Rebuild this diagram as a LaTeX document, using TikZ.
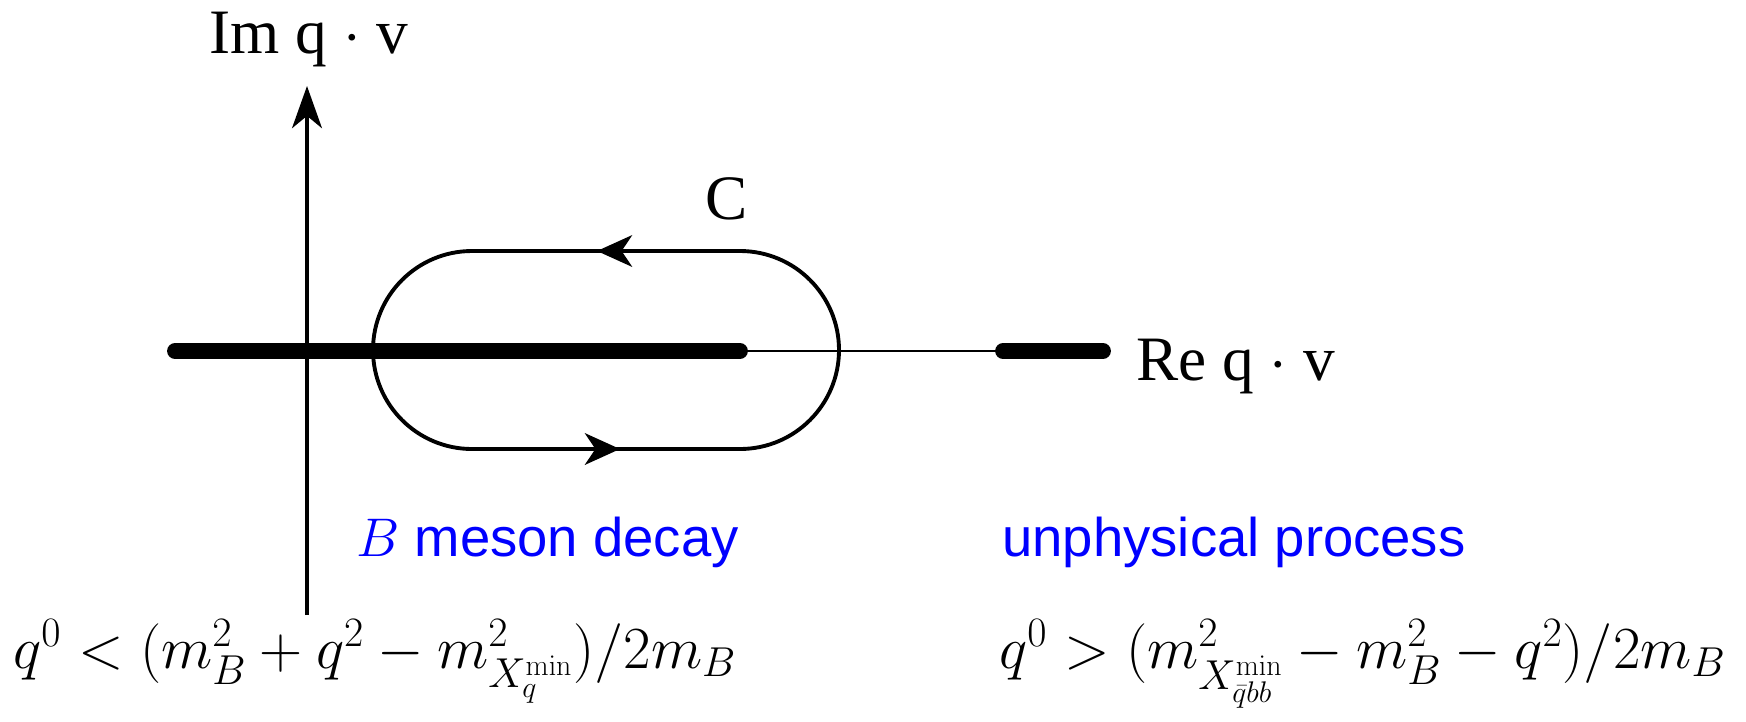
\RequirePackage{fix-cm}
\documentclass[tikz,border=0pt]{standalone}
\usepackage{amsmath,amssymb}
\usepackage[no-math]{fontspec}
\setmainfont{Liberation Serif}
\setsansfont{Liberation Sans}
\usetikzlibrary{arrows.meta,positioning}

\tikzset{
  axisline/.style={line width=2.1pt},
  cutline/.style={line width=9pt, line cap=round},
  thinline/.style={line width=1.4pt},
  contourline/.style={line width=2.2pt},
  contourtip/.style={-{Stealth[length=20pt, width=18pt, inset=6pt]}, line width=2.2pt},
  axislabel/.style={font=\fontsize{36}{40}\selectfont, inner sep=0pt},
  regionlabel/.style={font=\sffamily\fontsize{31}{36}\selectfont, text=blue, inner sep=0pt},
  formulalabel/.style={font=\fontsize{34}{38}\selectfont, inner sep=0pt}
}

\begin{document}
\begin{tikzpicture}[x=0.02cm, y=-0.02cm, line join=round]
    \path[use as bounding box] (0,0) rectangle (1746,721);
    \coordinate (O) at (307,351);
    \coordinate (ImTop) at (307,86);
    \coordinate (ImBot) at (307,615);
    \coordinate (CutL) at (175,351);
    \coordinate (CutR) at (740,351);
    \coordinate (ThrL) at (1003,351);
    \coordinate (ThrR) at (1103,351);
    \coordinate (CTR) at (740,251);
    \coordinate (CTL) at (472,251);
    \coordinate (CBL) at (472,449);
    \coordinate (CBR) at (740,449);
    % axes and cuts
    \draw[axisline, -{Stealth[length=24pt, width=17pt, inset=7pt]}] (ImBot) -- (ImTop);
    \draw[thinline] (CutR) -- (ThrL);
    \draw[cutline] (CutL) -- (CutR);
    \draw[cutline] (ThrL) -- (ThrR);
    % contour C
    \draw[contourline] (CTR) -- (CTL) arc[start angle=-90, end angle=-270, radius=99]
        -- (CBR) arc[start angle=90, end angle=-90, radius=99] -- cycle;
    \draw[contourtip] (625,251) -- (597,251);
    \draw[contourtip] (592,449) -- (620,449);
    % labels
    \node[axislabel, anchor=base] (imlab) at (309,53) {Im q $\cdot$ v};
    \node[axislabel, anchor=base west] (relab) at (1136,380) {Re q $\cdot$ v};
    \node[axislabel, anchor=base] (clab) at (727,219) {C};
    \node[regionlabel, anchor=base west] (bdecay) at (356,556) {$B$ meson decay};
    \node[regionlabel, anchor=base west] (unphys) at (1002,556) {unphysical process};
    \node[formulalabel, anchor=base west] (fleft) at (13,668) {$q^0<(m_B^2+q^2-m^2_{X_q^{\min}})/2m_B$};
    \node[formulalabel, anchor=base west] (fright) at (999,668) {$q^0>(m^2_{X^{\min}_{\bar q bb}}-m_B^2-q^2)/2m_B$};
\end{tikzpicture}
\end{document}
